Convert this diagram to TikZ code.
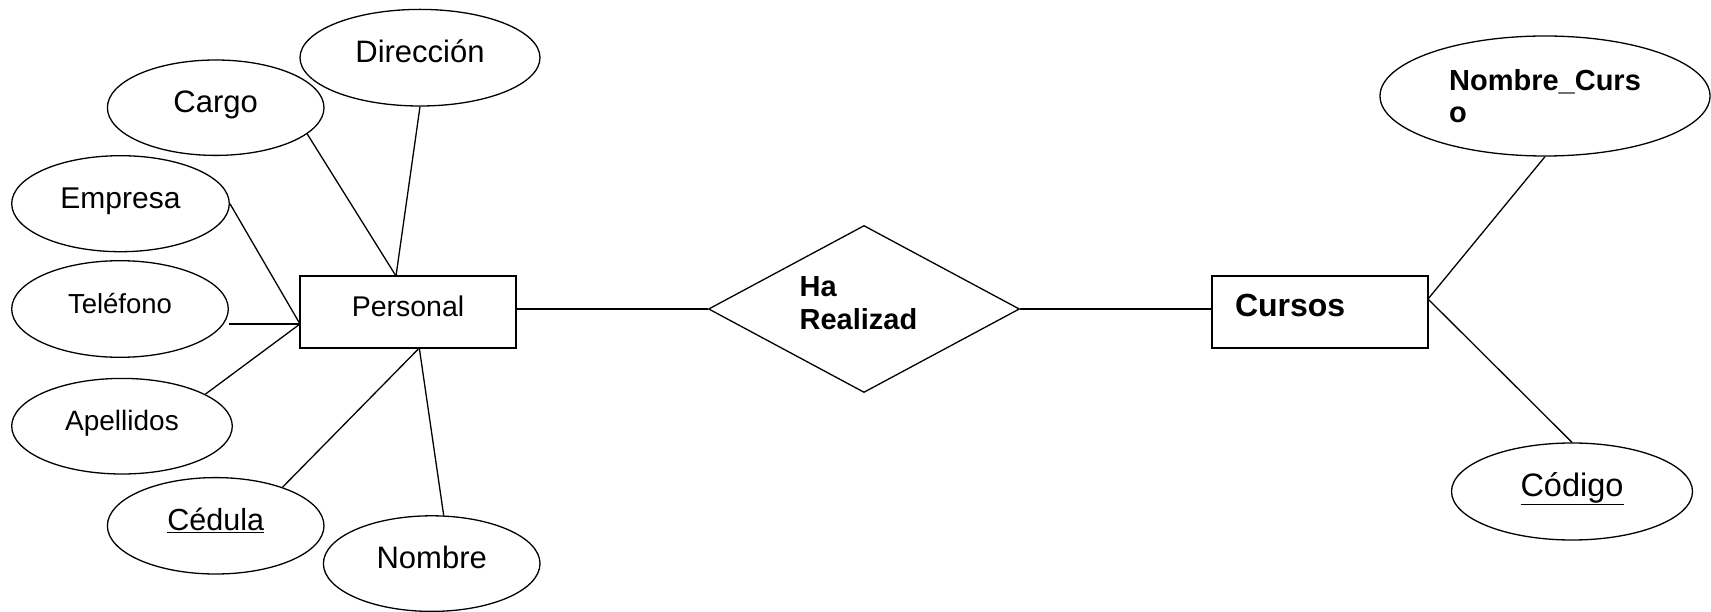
\documentclass[tikz,border=0pt]{standalone}
\usepackage{fontspec}
\setmainfont{Liberation Sans}
\usetikzlibrary{shapes.geometric}
\begin{document}
\begin{tikzpicture}[x=1pt,y=-1pt,line width=1.3pt,
  attr/.style={ellipse,draw,inner sep=0pt,text height=22pt,text depth=13pt},
  ent/.style={rectangle,draw,inner sep=0pt,minimum height=72pt,text height=22pt,text depth=13pt},
  fs/.style={font=\fontsize{#1}{#1}\selectfont},
  fsb/.style={font=\bfseries\fontsize{#1}{32}\selectfont}]
\useasboundingbox (0,0) rectangle (1711,612);
% attributes of Personal
\node[attr,minimum width=240pt,minimum height=96.6pt,fs=31] (dir) at (420,57.7) {Dirección};
\node[attr,minimum width=216.6pt,minimum height=95.4pt,fs=31] (car) at (215.7,107.7) {Cargo};
\node[attr,minimum width=217.6pt,minimum height=96pt,fs=30] (emp) at (120.5,203.7) {Empresa};
\node[attr,minimum width=216.6pt,minimum height=96.6pt,fs=27.5] (tel) at (120,309) {Teléfono};
\node[attr,minimum width=220.6pt,minimum height=95.6pt,fs=28] (ape) at (122,426.2) {Apellidos};
\node[attr,minimum width=216.6pt,minimum height=96.4pt,fs=30.5] (ced) at (215.7,525.8) {\underline{Cédula}};
\node[attr,minimum width=216.6pt,minimum height=95.6pt,fs=31] (nom) at (431.7,563.6) {Nombre};
% entities
\node[ent,minimum width=216pt,fs=28.5] (per) at (408,312) {Personal};
\node[ent,minimum width=216pt,text width=170pt,inner xsep=23pt,align=left,fsb=32] (cur) at (1320,312) {Cursos};
% relationship
\node[diamond,draw,minimum width=311pt,minimum height=167pt,inner sep=0pt] (dia) at (864,309) {};
\node[anchor=north west,align=left,inner sep=0pt,font=\bfseries\fontsize{29}{33}\selectfont] (rel) at (799,276) {Ha\\Realizad};
% attributes of Cursos
\node[attr,text height=,text depth=,minimum width=330pt,minimum height=120pt,align=left,fsb=29] (nc) at (1545,96) {Nombre\_Curs\\o};
\node[attr,minimum width=241pt,minimum height=97pt,fs=32.5] (cod) at (1572,491.5) {\underline{Código}};
% attachment points
\coordinate (ptop) at (396,276);
\coordinate (pleft) at (300,324);
\coordinate (pbot) at (419.3,348);
\coordinate (cright) at (1428,299);
% connectors
\draw (car.-16) -- (ptop);
\draw (dir.south) -- (ptop);
\draw (emp.east) -- (pleft);
\draw (tel.east |- pleft) -- (pleft);
\draw (ape.21) -- (pleft);
\draw (ced.30) -- (pbot);
\draw (nom.76) -- (pbot);
\draw (per.east |- dia.west) -- (dia.west);
\draw (dia.east) -- (dia.east -| cur.west);
\draw (cright) -- (nc.south);
\draw (cright) -- (cod.north);
\end{tikzpicture}
\end{document}
